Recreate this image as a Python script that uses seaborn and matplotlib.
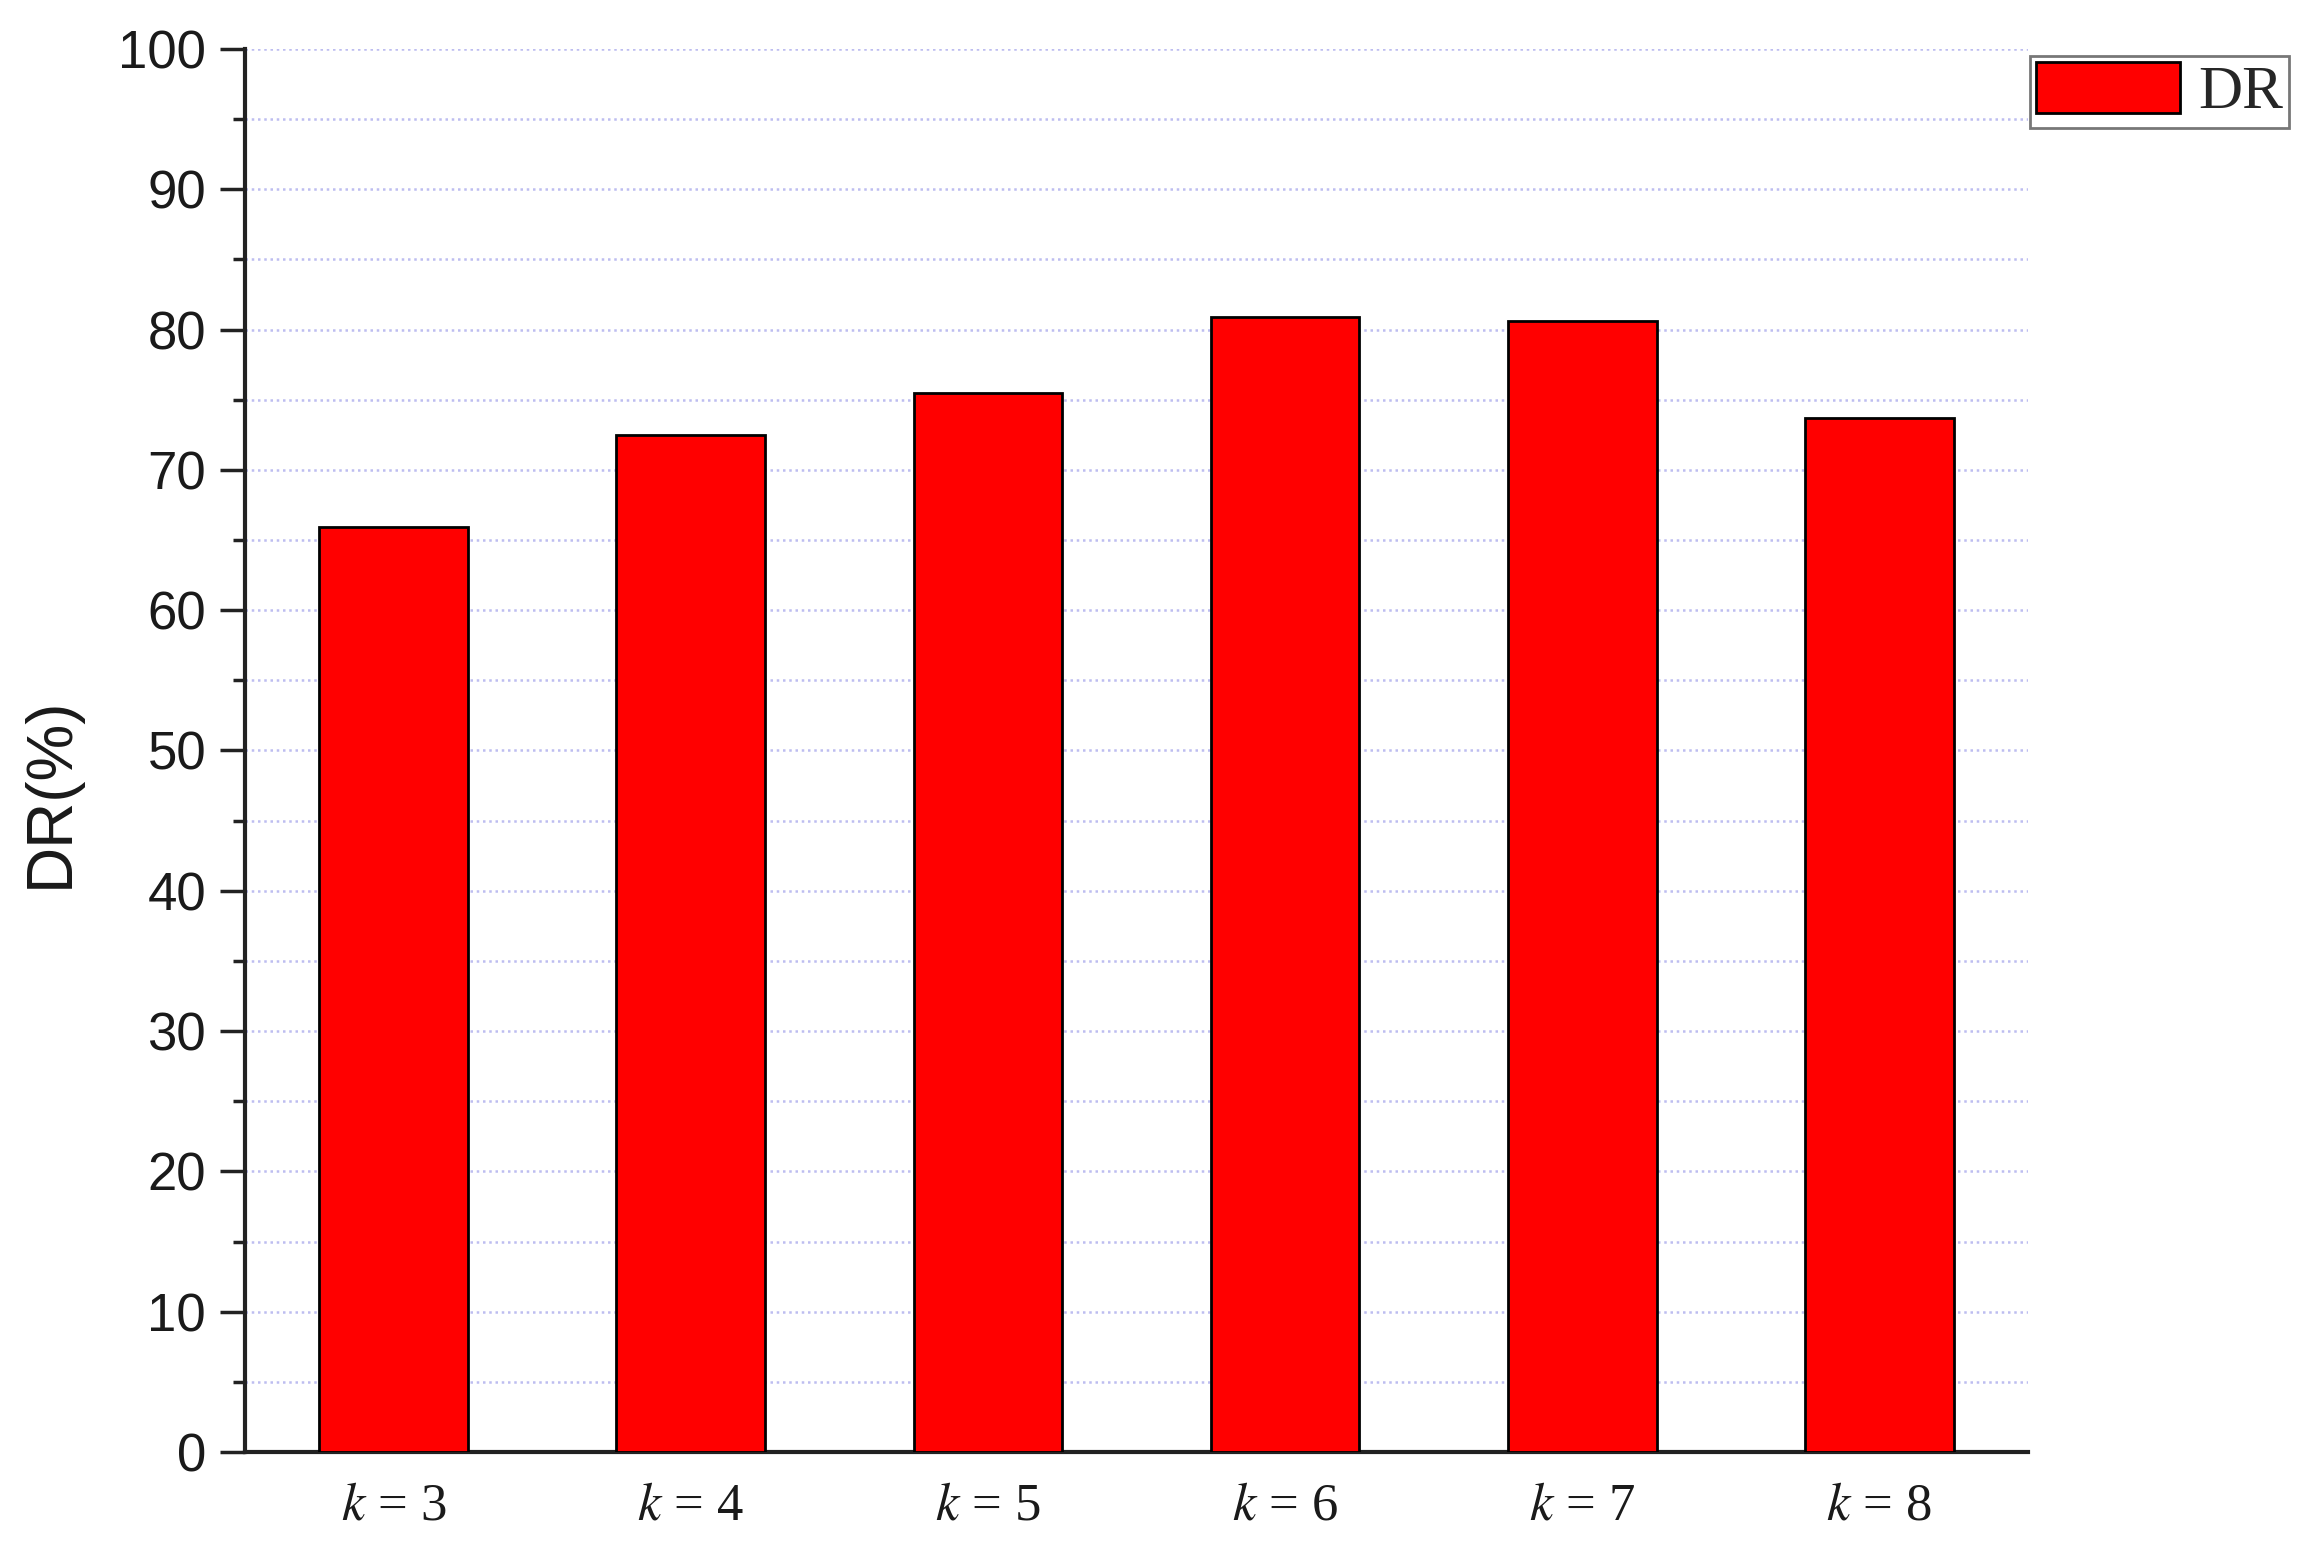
import numpy as np
import pandas as pd
import matplotlib
matplotlib.use("Agg")
import matplotlib.pyplot as plt
from matplotlib.ticker import MultipleLocator
from matplotlib.patches import Patch
import seaborn as sns

# 数据
k_values = [3, 4, 5, 6, 7, 8]
k_labels = [f"$k$ = {k}" for k in k_values]
dr_values = [65.9, 72.5, 75.5, 80.9, 80.6, 73.7]

df = pd.DataFrame({"k": k_labels, "DR": dr_values})

sns.set_style("ticks")
plt.rcParams["font.family"] = ["Liberation Sans", "DejaVu Sans"]
plt.rcParams["mathtext.fontset"] = "stix"

fig = plt.figure(figsize=(23.13, 15.45), dpi=100)
ax = fig.add_axes([0.1059, 0.0602, 0.7709, 0.9081])

sns.barplot(data=df, x="k", y="DR", color="#ff0000", saturation=1,
            edgecolor="black", linewidth=2, width=0.5, ax=ax, zorder=3)

ax.set_xlim(-0.5, 5.5)
ax.set_ylim(0, 100)
ax.yaxis.set_major_locator(MultipleLocator(10))
ax.yaxis.set_minor_locator(MultipleLocator(5))

# 网格线（主、次）
ax.grid(axis="y", which="both", linestyle=(0, (1, 1.5)), color="#bdbdf0", linewidth=1.8, zorder=0)
ax.set_axisbelow(True)

for s in ["top", "right"]:
    ax.spines[s].set_visible(False)
for s in ["left", "bottom"]:
    ax.spines[s].set_linewidth(3)
    ax.spines[s].set_color("#222222")

ax.tick_params(axis="y", which="major", length=18, width=2.5, pad=10, labelsize=38,
               color="#222222", labelcolor="#1a1a1a")
ax.tick_params(axis="y", which="minor", length=9, width=2.5, color="#222222")
ax.tick_params(axis="x", length=0, pad=22, labelcolor="#1a1a1a")
for lab in ax.get_xticklabels():
    lab.set_fontfamily("Liberation Serif")
    lab.set_fontsize(38)

ax.set_xlabel("")
ax.set_ylabel("DR(%)", fontsize=46, color="#1a1a1a")
ax.yaxis.set_label_coords(-0.092, 0.47)

handle = Patch(facecolor="#ff0000", edgecolor="black", linewidth=2, label="DR")
leg = ax.legend(handles=[handle], loc="upper right", bbox_to_anchor=(0.9896, 0.9638),
                bbox_transform=fig.transFigure, fancybox=False, frameon=True,
                prop={"family": "Liberation Serif", "size": 44},
                handlelength=2.35, handleheight=0.9, handletextpad=0.3,
                borderpad=0.1, borderaxespad=0)
leg.get_frame().set_edgecolor("#555555")
leg.get_frame().set_linewidth(2)

fig.savefig("out.png", dpi=100)
